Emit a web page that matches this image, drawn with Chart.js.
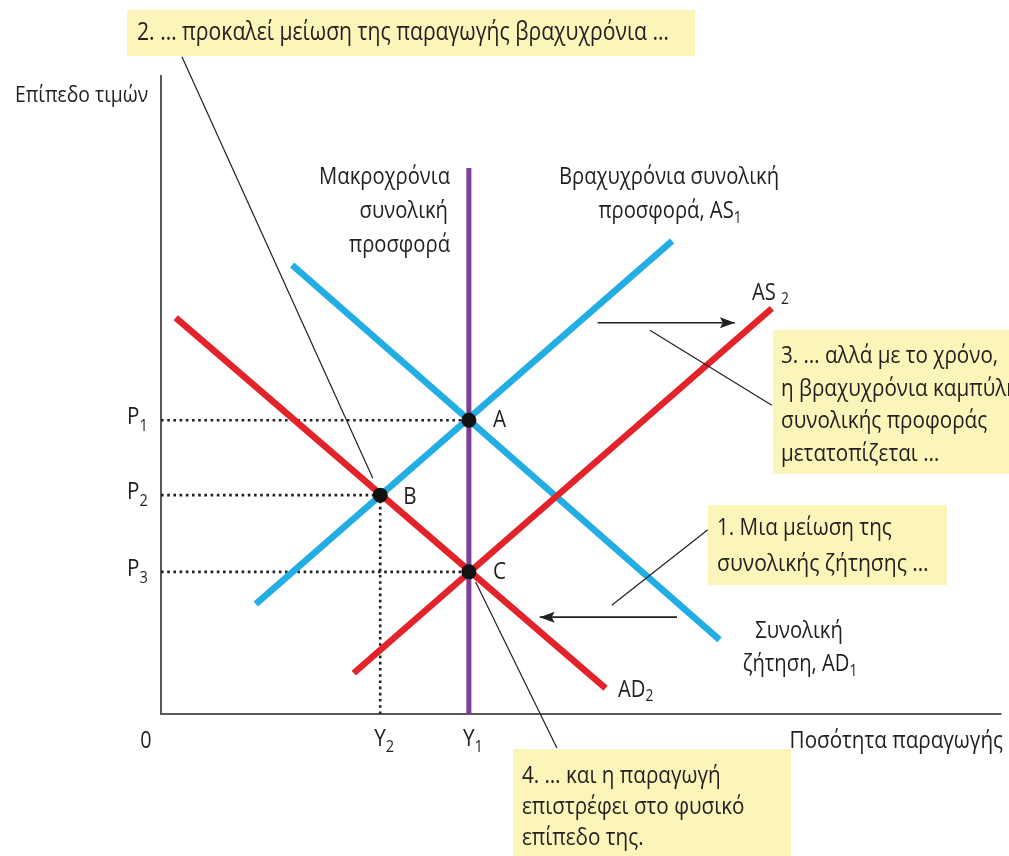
<!DOCTYPE html>
<html><head><meta charset="utf-8">
<script src="https://cdn.jsdelivr.net/npm/chart.js@4.4.1/dist/chart.umd.min.js"></script>
<style>html,body{margin:0;padding:0;background:#fff;overflow:hidden}#wrap{width:1009px;height:856px;position:relative}</style>
</head><body><div id="wrap"><canvas id="c" width="1009" height="856"></canvas></div>
<script>
// ---- data (output on x, price level on y, abstract units) ----
const as1X = [1.54, 8.30], as1Y = [1.75, 7.52];
const ad1X = [2.13, 9.07], ad1Y = [7.14, 1.18];
const ad2X = [0.24, 7.22], ad2Y = [6.30, 0.41];
const as2X = [3.13, 9.92], as2Y = [0.65, 6.45];
const lrasX = [5, 5], lrasY = [0, 8.68];
const eqNames = ['A', 'B', 'C'];
const eqX = [5, 3.56, 5];
const eqY = [4.67, 3.48, 2.26];
const priceLabels = ['1', '2', '3'];
const priceValues = [4.67, 3.48, 2.26];
const outputLabels = ['2', '1'];
const outputValues = [3.56, 5];
const shiftRightX = [7.09, 9.32], shiftRightY = [6.22, 6.22];
const shiftLeftX = [8.38, 6.15], shiftLeftY = [1.54, 1.54];
const call1X = [8.88, 7.32], call1Y = [2.93, 1.73];
const call2X = [0.34, 3.44], call2Y = [10.45, 3.75];
const call3X = [7.94, 9.92], call3Y = [6.10, 4.91];
const call4X = [5.11, 6.43], call4Y = [2.10, -0.54];
const xMax = 13.65, yMax = 10.16;

const BLUE = '#22ade4', RED = '#e3232a', PURPLE = '#7d3f97', INK = '#231f20', BOX = '#fcf5b9';
const pts = (xs, ys) => xs.map((x, i) => ({x, y: ys[i]}));
const line = (label, xs, ys, color, width, order, extra) => Object.assign({
  label, data: pts(xs, ys), showLine: true, borderColor: color, backgroundColor: color,
  borderWidth: width, pointRadius: 0, fill: false, clip: false, order, borderCapStyle: 'butt'
}, extra || {});

const datasets = [
  line('AS1', as1X, as1Y, BLUE, 6.5, 5),
  line('AD1', ad1X, ad1Y, BLUE, 6.5, 5),
  line('AD2', ad2X, ad2Y, RED, 6.5, 4),
  line('AS2', as2X, as2Y, RED, 6.5, 4),
  line('LRAS', lrasX, lrasY, PURPLE, 5, 3),
  line('P1', [0, eqX[0]], [priceValues[0], priceValues[0]], INK, 2.6, 6, {borderDash: [2.6, 3.6]}),
  line('P2', [0, eqX[1]], [priceValues[1], priceValues[1]], INK, 2.6, 6, {borderDash: [2.6, 3.6]}),
  line('P3', [0, eqX[2]], [priceValues[2], priceValues[2]], INK, 2.6, 6, {borderDash: [2.6, 3.6]}),
  line('Y2', [outputValues[0], outputValues[0]], [0, priceValues[1]], INK, 2.6, 6, {borderDash: [2.6, 3.6]}),
  line('shiftR', shiftRightX, shiftRightY, INK, 1.6, 2),
  line('shiftL', shiftLeftX, shiftLeftY, INK, 1.6, 2),
  line('c1', call1X, call1Y, INK, 1.2, 1),
  line('c2', call2X, call2Y, INK, 1.2, 1),
  line('c3', call3X, call3Y, INK, 1.2, 1),
  line('c4', call4X, call4Y, INK, 1.2, 1),
  {label: 'eq', data: pts(eqX, eqY), showLine: false, pointRadius: 7.5, pointBackgroundColor: '#111',
   pointBorderWidth: 0, backgroundColor: '#111', order: 0, clip: false}
];

const FONT = '"Open Sans", "DejaVu Sans", sans-serif';
const SX = 0.86;
function rich(ctx, parts, x, y, align) {
  // parts: [text, size, dy]
  let w = 0;
  parts.forEach(p => { ctx.font = p[1] + 'px ' + FONT; w += ctx.measureText(p[0]).width * SX; });
  let cx = align === 'center' ? x - w / 2 : align === 'right' ? x - w : x;
  ctx.fillStyle = INK; ctx.textBaseline = 'middle'; ctx.textAlign = 'left';
  parts.forEach(p => {
    ctx.font = p[1] + 'px ' + FONT;
    ctx.save(); ctx.translate(cx, y + (p[2] || 0)); ctx.scale(SX, 1); ctx.fillText(p[0], 0, 0); ctx.restore();
    cx += ctx.measureText(p[0]).width * SX;
  });
}
function txt(ctx, s, x, y, size, align) { rich(ctx, [[s, size, 0]], x, y, align || 'left'); }

const decor = {
  id: 'decor',
  beforeDatasetsDraw(chart) {
    const ctx = chart.ctx, xs = chart.scales.x, ys = chart.scales.y;
    ctx.save();
    // boxes
    ctx.fillStyle = BOX;
    ctx.fillRect(127, 10, 568, 46);
    ctx.fillRect(773, 330, 240, 144);
    ctx.fillRect(708, 505, 239, 80);
    ctx.fillRect(513, 749, 278, 110);
    // axes
    ctx.strokeStyle = '#58595b'; ctx.lineWidth = 2;
    ctx.beginPath();
    ctx.moveTo(xs.getPixelForValue(0), ys.getPixelForValue(yMax));
    ctx.lineTo(xs.getPixelForValue(0), ys.getPixelForValue(0));
    ctx.lineTo(xs.getPixelForValue(xMax), ys.getPixelForValue(0));
    ctx.stroke();
    ctx.restore();
  },
  afterDatasetsDraw(chart) {
    const ctx = chart.ctx, xs = chart.scales.x, ys = chart.scales.y;
    const X = v => xs.getPixelForValue(v), Y = v => ys.getPixelForValue(v);
    ctx.save();
    // arrowheads
    const head = (xa, ya, xb, yb) => {
      const x1 = X(xa), y1 = Y(ya), x2 = X(xb), y2 = Y(yb);
      const a = Math.atan2(y2 - y1, x2 - x1), L = 15, H = 5.5;
      ctx.fillStyle = INK; ctx.beginPath();
      ctx.moveTo(x2, y2);
      ctx.lineTo(x2 - L * Math.cos(a) + H * Math.sin(a), y2 - L * Math.sin(a) - H * Math.cos(a));
      ctx.lineTo(x2 - L * Math.cos(a) * 0.8, y2 - L * Math.sin(a) * 0.8);
      ctx.lineTo(x2 - L * Math.cos(a) - H * Math.sin(a), y2 - L * Math.sin(a) + H * Math.cos(a));
      ctx.closePath(); ctx.fill();
    };
    head(shiftRightX[0], shiftRightY[0], shiftRightX[1], shiftRightY[1]);
    head(shiftLeftX[0], shiftLeftY[0], shiftLeftX[1], shiftLeftY[1]);

    // axis labels
    txt(ctx, 'Επίπεδο τιμών', 15, 96, 22.5);
    txt(ctx, 'Ποσότητα παραγωγής', 1003, 741, 24, 'right');
    txt(ctx, '0', 146, 741, 23, 'center');
    priceLabels.forEach((l, i) => rich(ctx, [['P', 24, 0], [l, 17, 9]], 127, Y(priceValues[i]) - 3, 'left'));
    outputLabels.forEach((l, i) => rich(ctx, [['Y', 24, 0], [l, 17, 8]], X(outputValues[i]) - 6, 739, 'left'));
    // equilibrium labels
    txt(ctx, eqNames[0], X(eqX[0]) + 24, Y(eqY[0]), 24, 'left');
    txt(ctx, eqNames[1], X(eqX[1]) + 23, Y(eqY[1]) + 2, 24, 'left');
    txt(ctx, eqNames[2], X(eqX[2]) + 24, Y(eqY[2]), 24, 'left');
    // curve labels
    txt(ctx, 'Μακροχρόνια', 450, 177, 23.5, 'right');
    txt(ctx, 'συνολική', 448, 211, 23.5, 'right');
    txt(ctx, 'προσφορά', 450, 245, 23.5, 'right');
    txt(ctx, 'Βραχυχρόνια συνολική', 669, 177, 23.5, 'center');
    rich(ctx, [['προσφορά, AS', 23.5, 0], ['1', 16, 7]], 670, 211, 'center');
    rich(ctx, [['AS ', 23.5, 0], ['2', 16, 6]], 752, 293, 'left');
    txt(ctx, 'Συνολική', 799, 631, 23.5, 'center');
    rich(ctx, [['ζήτηση, AD', 23.5, 0], ['1', 16, 7]], 800, 664, 'center');
    rich(ctx, [['AD', 23.5, 0], ['2', 16, 6]], 618, 690, 'left');
    // box texts
    txt(ctx, '2. … προκαλεί μείωση της παραγωγής βραχυχρόνια …', 137, 33, 24.6);
    txt(ctx, '3. … αλλά με το χρόνο,', 781, 356, 24);
    txt(ctx, 'η βραχυχρόνια καμπύλη', 781, 389, 24);
    txt(ctx, 'συνολικής προφοράς', 781, 421, 24);
    txt(ctx, 'μετατοπίζεται …', 781, 454, 24);
    txt(ctx, '1. Μια μείωση της', 717, 528, 24);
    txt(ctx, 'συνολικής ζήτησης …', 717, 564, 24.5);
    txt(ctx, '4. … και η παραγωγή', 522, 776, 24);
    txt(ctx, 'επιστρέφει στο φυσικό', 522, 807, 24);
    txt(ctx, 'επίπεδο της.', 522, 838, 24);
    ctx.restore();
  }
};

new Chart(document.getElementById('c'), {
  type: 'scatter',
  data: {datasets},
  options: {
    responsive: false, animation: false, devicePixelRatio: 1,
    layout: {padding: {left: 161, right: 7, top: 75, bottom: 142}},
    scales: {
      x: {type: 'linear', min: 0, max: xMax, display: false},
      y: {type: 'linear', min: 0, max: yMax, display: false}
    },
    plugins: {legend: {display: false}, tooltip: {enabled: false}}
  },
  plugins: [decor]
});
</script></body></html>
